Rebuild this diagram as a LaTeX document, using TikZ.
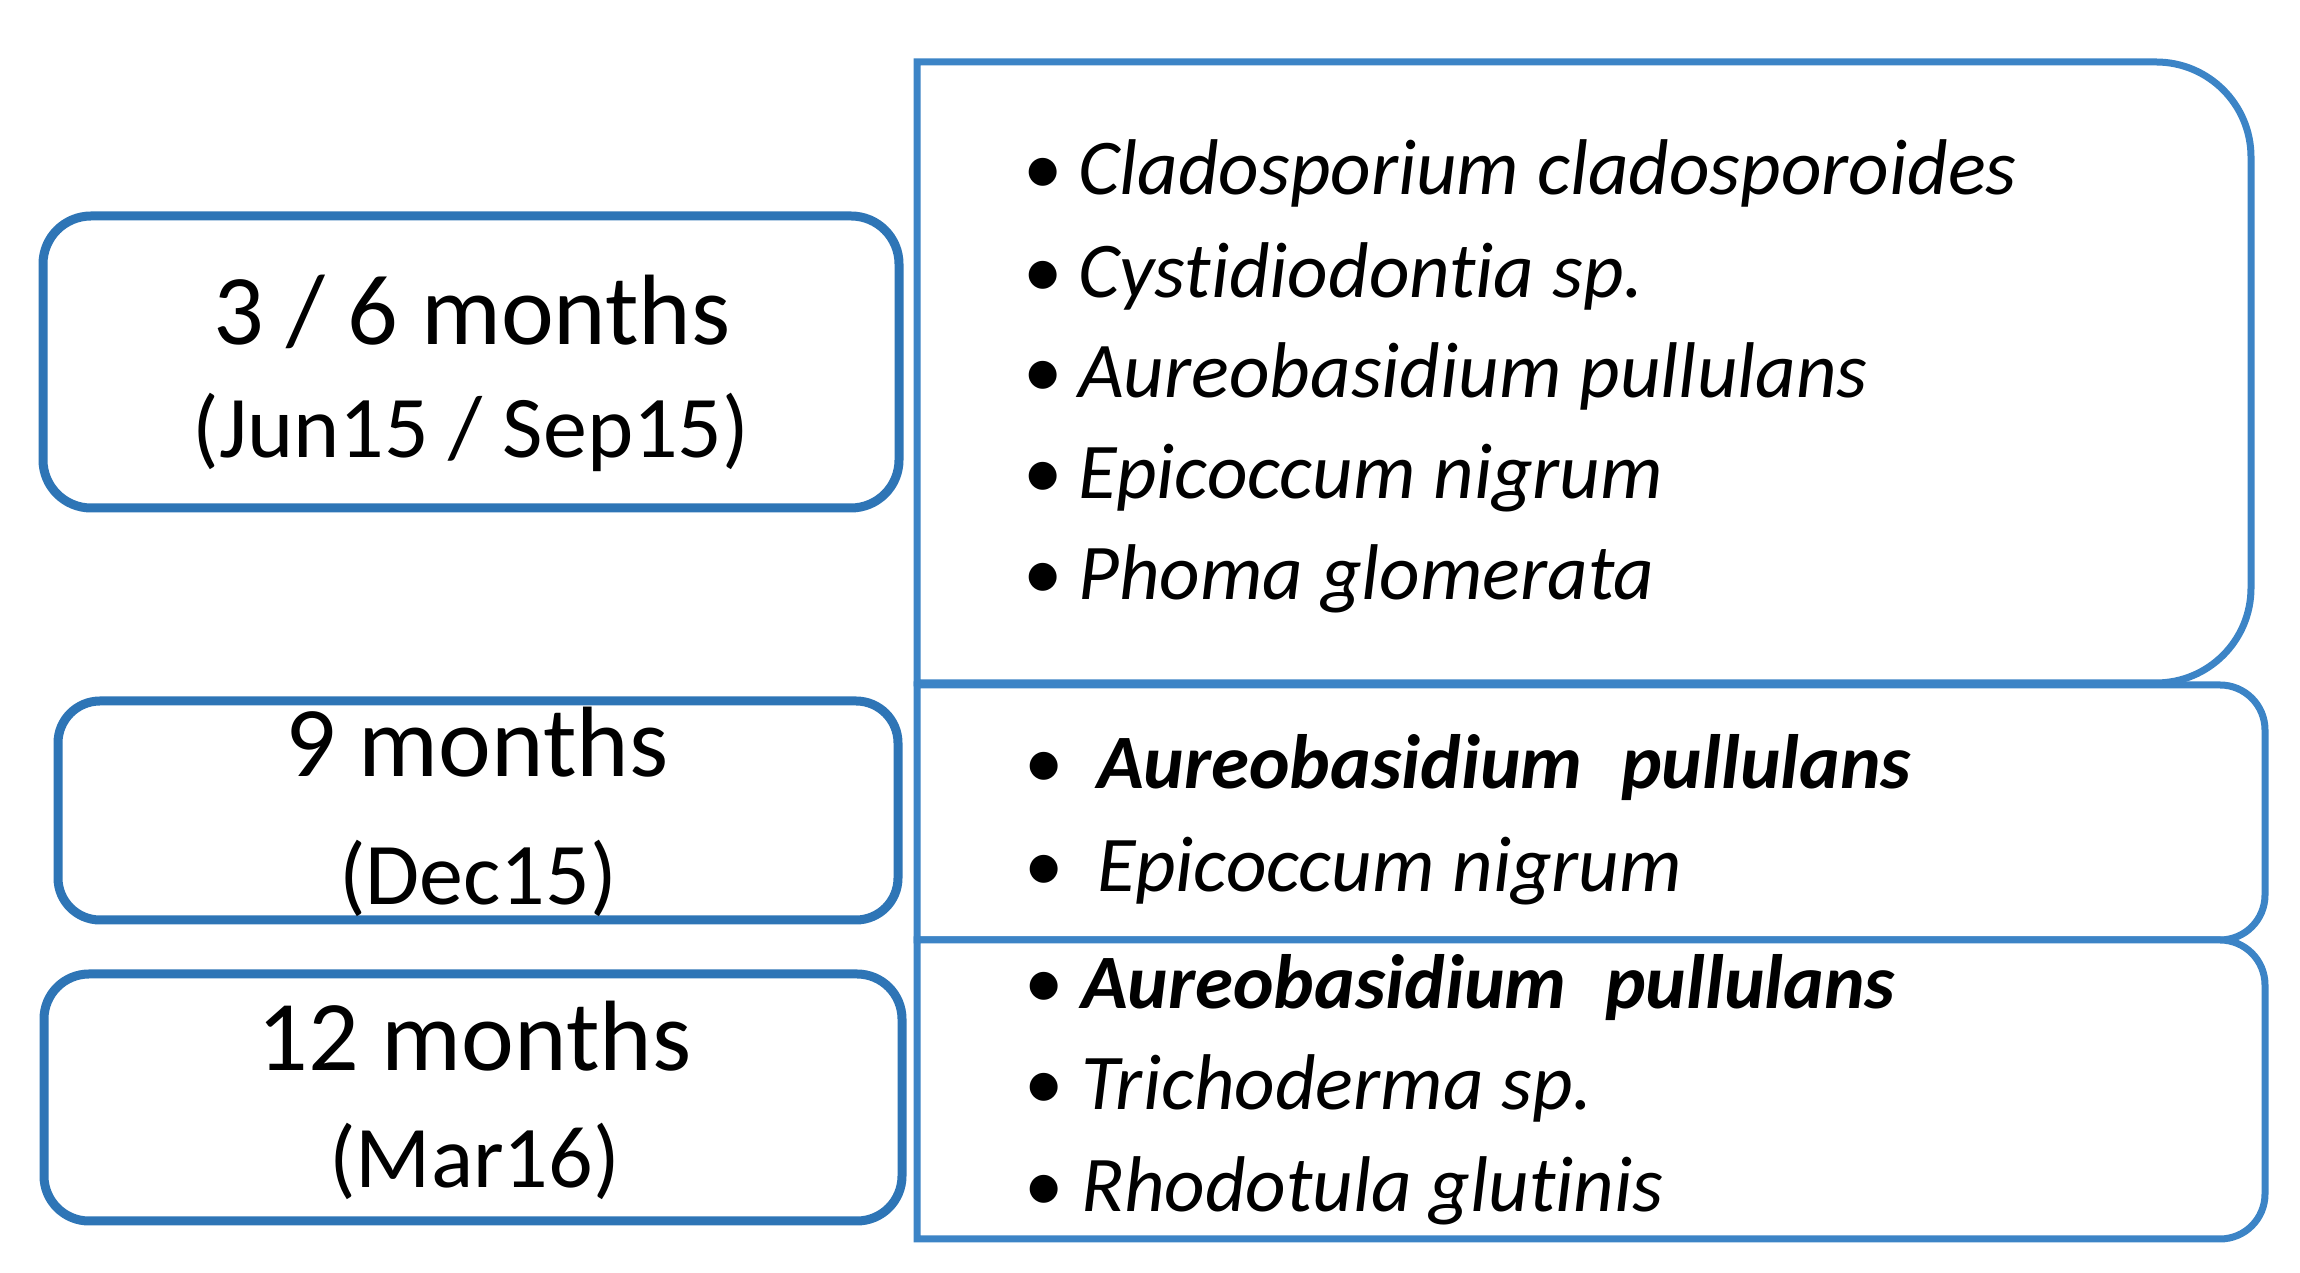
\documentclass[tikz,border=0pt]{standalone}
\usepackage{fontspec}
\setmainfont[Ligatures=NoCommon]{Carlito}
\definecolor{leftblue}{RGB}{46,117,182}
\definecolor{rightblue}{RGB}{60,132,198}
\tikzset{
  x=1pt, y=1pt,
  leftbox/.style={draw=leftblue, line width=9pt, fill=white, rectangle, inner sep=0pt},
  rightbox/.style={draw=rightblue, line width=7pt, fill=white},
  bigtxt/.style={anchor=base, inner sep=0pt, font=\fontsize{100}{100}\selectfont},
  midtxt/.style={anchor=base, inner sep=0pt, font=\fontsize{88}{88}\selectfont},
  bul/.style={anchor=base, inner sep=0pt, font=\fontsize{79}{79}\selectfont},
  itm/.style={anchor=base west, inner sep=0pt, font=\fontsize{79}{79}\selectfont\itshape},
  bitm/.style={anchor=base west, inner sep=0pt, font=\fontsize{77}{77}\selectfont\bfseries\itshape},
}
\begin{document}
\begin{tikzpicture}
\useasboundingbox (0,0) rectangle (2300,1273);
% left boxes
\node[leftbox, rounded corners=48pt, minimum width=856pt, minimum height=292pt] (L1) at (471,911) {};
\node[leftbox, rounded corners=42pt, minimum width=840pt, minimum height=219pt] (L2) at (478,462.5) {};
\node[leftbox, rounded corners=45pt, minimum width=858pt, minimum height=247pt] (L3) at (473,175.5) {};
% right boxes
\draw[rightbox] (917,1211) -- (2156,1211) arc[start angle=90,end angle=0,radius=95] -- (2251,685) arc[start angle=0,end angle=-90,radius=95] -- (917,590) -- cycle;
\draw[rightbox] (917,588) -- (2220,588) arc[start angle=90,end angle=0,radius=45] -- (2265,378) arc[start angle=0,end angle=-90,radius=45] -- (917,333) -- cycle;
\draw[rightbox] (917,333) -- (2220,333) arc[start angle=90,end angle=0,radius=45] -- (2265,79) arc[start angle=0,end angle=-90,radius=45] -- (917,34) -- cycle;
% left texts
\node[bigtxt] (t1a) at (472,928) {3 / 6 months};
\node[midtxt] (t1b) at (471,815) {(Jun15 / Sep15)};
\node[bigtxt] (t2a) at (477,496) {9 months};
\node[midtxt] (t2b) at (478,368) {(Dec15)};
\node[bigtxt] (t3a) at (474.5,202) {12 months};
\node[midtxt] (t3b) at (474.5,85) {(Mar16)};
% box 1 list
\node[bul] (b11) at (1043,1078) {•};
\node[itm] (i11) at (1078,1078) {Cladosporium cladosporoides};
\node[bul] (b12) at (1043,975) {•};
\node[itm] (i12) at (1078,975) {Cystidiodontia sp.};
\node[bul] (b13) at (1043,875.5) {•};
\node[itm] (i13) at (1078,875.5) {Aureobasidium pullulans};
\node[bul] (b14) at (1043,774) {•};
\node[itm] (i14) at (1078,774) {Epicoccum nigrum};
\node[bul] (b15) at (1043,673) {•};
\node[itm] (i15) at (1078,673) {Phoma glomerata};
% box 2 list
\node[bul] (b21) at (1044,484) {•};
\node[bitm] (i21) at (1097,484) {Aureobasidium\hspace{0.5em}pullulans};
\node[bul] (b22) at (1044,381) {•};
\node[itm] (i22) at (1097,381) {Epicoccum nigrum};
% box 3 list
\node[bul] (b31) at (1044,264) {•};
\node[bitm] (i31) at (1081,264) {Aureobasidium\hspace{0.5em}pullulans};
\node[bul] (b32) at (1044,163) {•};
\node[itm] (i32) at (1081,163) {Trichoderma sp.};
\node[bul] (b33) at (1044,61) {•};
\node[itm] (i33) at (1081,61) {Rhodotula glutinis};
\end{tikzpicture}
\end{document}
